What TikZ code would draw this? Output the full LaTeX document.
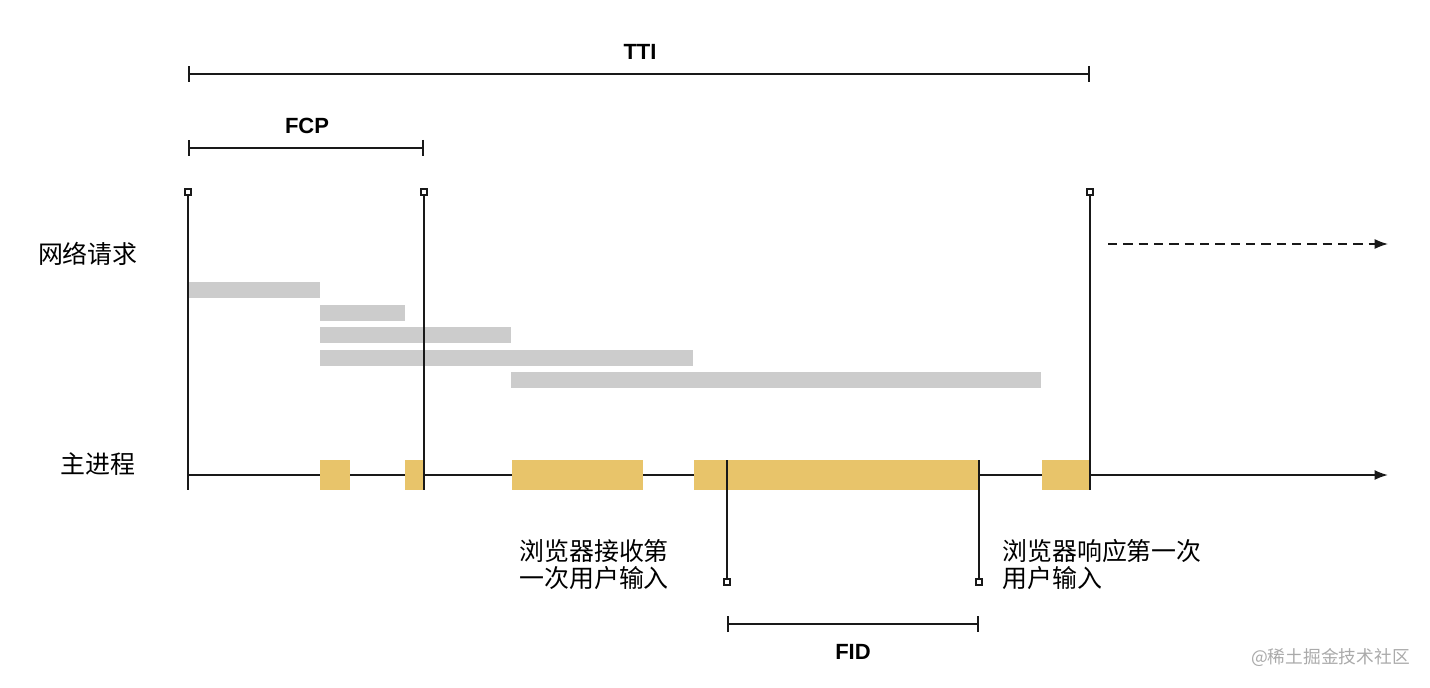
\documentclass[tikz,border=0pt]{standalone}
\usepackage{fontspec}
\setmainfont{Liberation Sans}
\newfontfamily\cjk{Noto Sans CJK SC}
\usetikzlibrary{arrows.meta}
\definecolor{barY}{RGB}{232,196,106}
\definecolor{barG}{RGB}{204,204,204}
\definecolor{wm}{RGB}{170,170,170}
\tikzset{
  ln/.style={line width=1.4pt, black!90},
  brk/.style={ln, {Bar[width=12pt]}-{Bar[width=12pt]}},
  sq/.style={draw=black!90, line width=1pt, fill=white, inner sep=0pt, minimum size=4.5pt, rectangle},
  ybar/.style={fill=barY, draw=none},
  gbar/.style={fill=barG, draw=none},
  cn/.style={font=\cjk\fontsize{18.7pt}{20.5pt}\selectfont, inner sep=0pt},
  lbl/.style={font=\bfseries\fontsize{16.5pt}{18pt}\selectfont, inner sep=0pt},
  arr/.style={-{Latex[length=10pt,width=7.5pt]}},
}
\begin{document}
\begin{tikzpicture}[x=0.75pt,y=-0.75pt]
\useasboundingbox (0,0) rectangle (1430,688);
% brackets
\coordinate (ttiA) at (188,74); \coordinate (ttiB) at (1090,74);
\draw[brk] (ttiA) -- (ttiB);
\node[lbl] (tti) at (640,52) {TTI};
\coordinate (fcpA) at (188,148); \coordinate (fcpB) at (424,148);
\draw[brk] (fcpA) -- (fcpB);
\node[lbl] (fcp) at (307,126) {FCP};
% gray bars
\fill[gbar] (188,282) rectangle (320,298);
\fill[gbar] (320,305) rectangle (405,321);
\fill[gbar] (320,327) rectangle (511,343);
\fill[gbar] (320,350) rectangle (693,366);
\fill[gbar] (511,372) rectangle (1041,388);
% main line
\coordinate (m0) at (188,475); \coordinate (m1) at (1388,475);
\draw[ln, arr] (m0) -- (m1);
% yellow bars
\fill[ybar] (320,460) rectangle (350,490);
\fill[ybar] (405,460) rectangle (424,490);
\fill[ybar] (512,460) rectangle (643,490);
\fill[ybar] (694,460) rectangle (979,490);
\fill[ybar] (1042,460) rectangle (1090,490);
% vertical markers
\foreach \n/\x in {v1/188, v2/424, v3/1090}{
  \node[sq] (\n top) at (\x,192) {};
  \coordinate (\n bot) at (\x,490);
  \draw[ln] (\n top.south) -- (\n bot);
}
\foreach \n/\x in {f1/727, f2/979}{
  \node[sq] (\n bot) at (\x,582) {};
  \coordinate (\n top) at (\x,460);
  \draw[ln] (\n top) -- (\n bot.north);
}
% dashed arrow
\coordinate (d0) at (1108,244); \coordinate (d1) at (1388,244);
\draw[line width=1.2pt, black!90, dash pattern=on 7pt off 4.5pt, arr] (d0) -- (d1);
% FID bracket
\coordinate (fidA) at (727,624); \coordinate (fidB) at (979,624);
\draw[brk] (fidA) -- (fidB);
\node[lbl] (fid) at (853,652) {FID};
% labels
\node[cn, anchor=east] (net) at (138,254) {网络请求};
\node[cn, anchor=east] (main) at (136,464) {主进程};
\node[cn, anchor=north west, align=left] (recv) at (519,539) {浏览器接收第\\一次用户输入};
\node[cn, anchor=north west, align=left] (resp) at (1002,539) {浏览器响应第一次\\用户输入};
\node[font=\cjk\fontsize{13.3pt}{15pt}\selectfont, text=wm, inner sep=0pt, anchor=east] (wmk) at (1410,657) {@稀土掘金技术社区};
\end{tikzpicture}
\end{document}
